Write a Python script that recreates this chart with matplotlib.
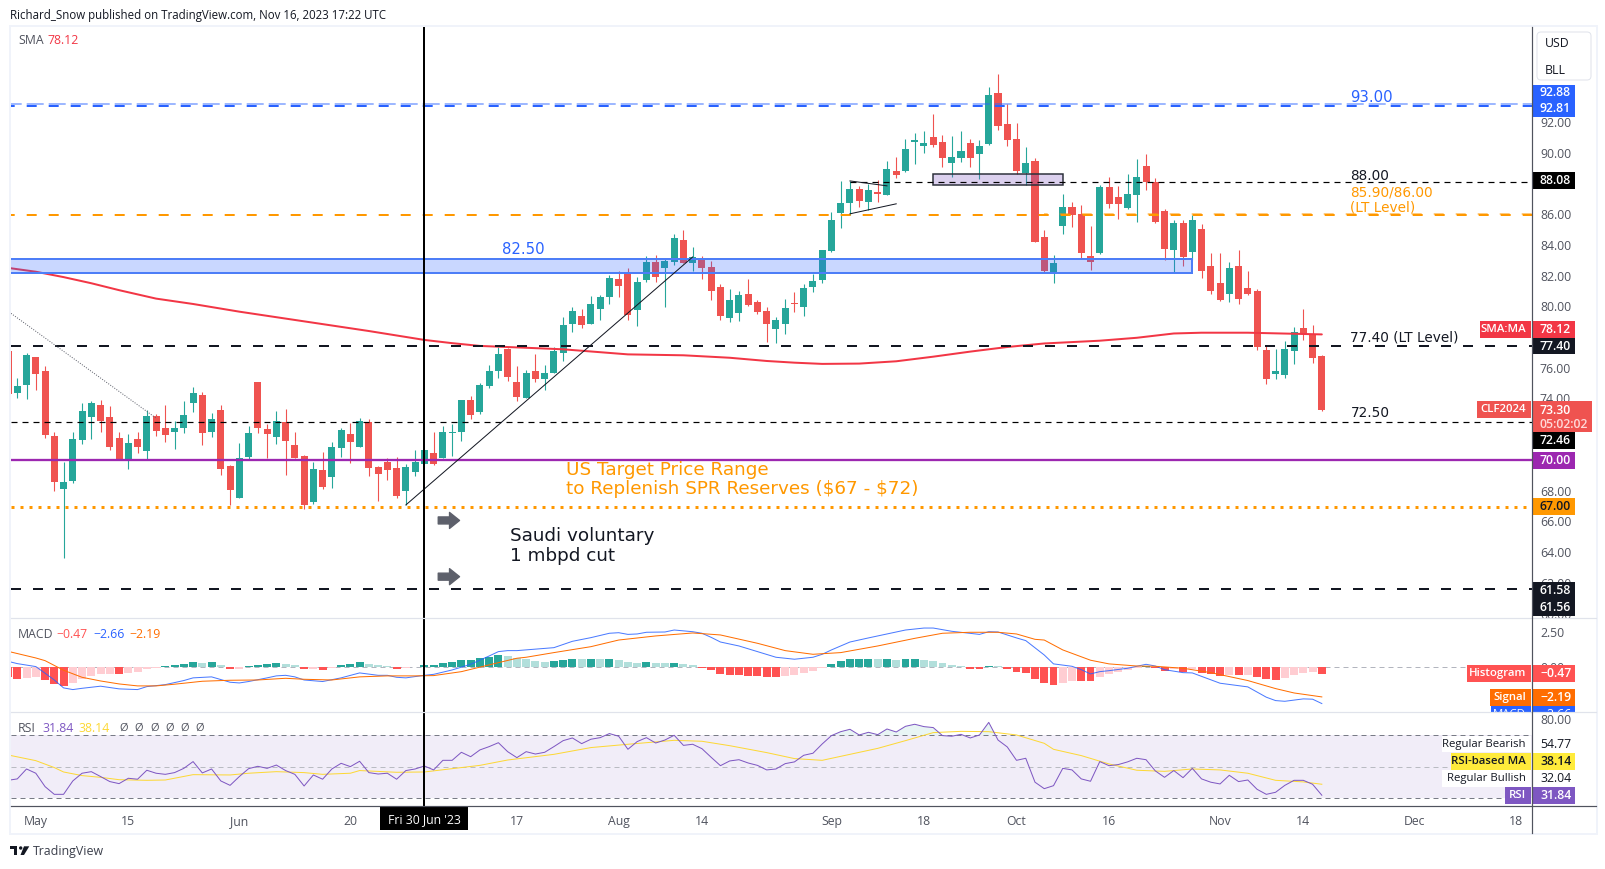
import matplotlib
matplotlib.use('Agg')
import matplotlib.pyplot as plt
from matplotlib.patches import Rectangle, Polygon, Circle, FancyBboxPatch
from matplotlib.transforms import Bbox, TransformedBbox

plt.rcParams['font.family'] = ['Open Sans', 'DejaVu Sans']
plt.rcParams['lines.scale_dashes'] = False

# candles, one per trading day from the end of April to 16 Nov 2023
opens = [77.11, 74.36, 74.88, 76.70, 75.79, 71.56, 68.11, 68.63, 71.30, 72.80,
         73.58, 72.80, 71.43, 70.00, 71.36, 70.58, 72.86, 72.08, 71.82, 72.08,
         73.71, 74.23, 71.82, 73.25, 69.61, 67.52, 70.19, 75.07, 72.01, 71.49,
         72.47, 70.97, 70.26, 67.26, 69.34, 68.89, 70.78, 71.69, 70.84, 72.47,
         69.54, 69.87, 69.48, 67.98, 69.21, 69.74, 70.45, 70.13, 71.75, 71.82,
         73.90, 73.12, 74.81, 75.79, 77.22, 75.07, 74.03, 75.79, 75.27, 75.66,
         76.96, 78.85, 79.37, 78.85, 79.83, 80.61, 81.78, 82.10, 79.76, 81.71,
         82.89, 82.50, 82.89, 84.32, 82.82, 83.15, 82.56, 81.26, 79.24, 79.57,
         80.80, 80.28, 79.70, 78.52, 78.85, 80.22, 79.96, 81.26, 81.72, 83.61,
         86.08, 86.73, 87.64, 86.80, 87.45, 87.25, 88.81, 88.81, 90.70, 90.44,
         91.03, 90.70, 89.33, 89.66, 90.64, 89.92, 90.57, 93.89, 91.87, 90.90,
         88.68, 89.46, 84.52, 82.22, 85.23, 86.47, 86.01, 83.28, 83.48, 87.77,
         87.12, 86.41, 87.25, 89.14, 88.10, 86.21, 83.67, 85.43, 83.53, 85.03,
         82.62, 81.51, 80.80, 82.62, 81.19, 80.99, 77.15, 75.59, 75.52, 77.08,
         78.58, 78.19, 76.76]
closes = [74.29, 74.81, 76.83, 75.59, 71.62, 68.56, 68.56, 71.36, 73.19, 73.71,
          72.53, 70.84, 70.00, 71.10, 70.84, 72.86, 71.88, 71.62, 72.08, 72.93,
          74.36, 71.75, 72.67, 69.41, 68.04, 70.13, 71.75, 72.08, 71.69, 72.53,
          71.23, 70.13, 67.07, 69.41, 68.24, 70.84, 71.95, 71.17, 72.53, 69.48,
          69.08, 69.34, 67.65, 69.54, 69.87, 70.65, 69.74, 71.82, 71.82, 73.90,
          72.93, 74.88, 75.79, 76.90, 75.40, 74.10, 75.66, 75.27, 75.66, 77.09,
          78.78, 79.70, 78.78, 80.15, 80.61, 81.84, 81.32, 79.44, 81.58, 82.89,
          81.91, 82.95, 84.45, 82.82, 83.21, 82.50, 81.00, 79.37, 80.41, 80.74,
          80.09, 79.63, 78.85, 79.11, 79.89, 80.15, 81.19, 81.65, 83.67, 85.62,
          86.73, 87.64, 86.86, 87.58, 87.32, 88.94, 88.55, 90.25, 90.83, 90.64,
          90.51, 89.66, 89.73, 90.12, 89.66, 90.44, 93.76, 91.74, 90.83, 88.81,
          89.33, 84.19, 82.30, 82.82, 86.47, 85.95, 83.48, 82.89, 87.77, 86.67,
          86.67, 87.32, 88.42, 88.10, 85.49, 83.74, 85.43, 83.22, 85.61, 82.29,
          80.99, 80.40, 82.49, 80.47, 80.80, 77.35, 75.26, 75.78, 77.22, 78.32,
          78.19, 76.63, 73.24]
highs = [77.11, 75.31, 76.96, 76.70, 76.12, 71.82, 69.87, 71.82, 73.71, 73.84,
         73.90, 73.51, 71.82, 71.69, 71.82, 73.25, 72.99, 73.58, 72.53, 73.84,
         74.75, 74.42, 73.06, 73.58, 69.67, 71.10, 72.21, 75.07, 72.34, 73.19,
         73.32, 71.82, 70.32, 69.87, 70.52, 71.17, 72.08, 72.40, 72.73, 72.67,
         69.61, 70.13, 70.19, 69.74, 70.65, 70.65, 71.82, 72.21, 72.34, 73.90,
         74.16, 75.01, 76.18, 77.35, 77.29, 76.12, 75.85, 76.90, 76.18, 77.35,
         79.31, 79.96, 79.83, 80.67, 80.74, 82.04, 82.30, 82.50, 81.91, 83.28,
         83.34, 83.08, 84.71, 84.97, 83.86, 83.28, 82.95, 81.45, 81.13, 81.00,
         81.78, 80.41, 79.96, 79.31, 80.48, 80.93, 81.45, 82.10, 83.67, 86.14,
         88.16, 88.16, 87.84, 87.97, 88.23, 89.46, 89.73, 90.90, 91.29, 91.42,
         92.52, 91.16, 91.09, 91.42, 90.90, 90.83, 94.28, 95.13, 93.18, 91.94,
         90.38, 89.66, 84.97, 83.35, 87.32, 86.80, 86.60, 85.23, 87.90, 88.42,
         87.84, 88.62, 89.60, 89.92, 88.36, 86.34, 85.62, 85.62, 85.94, 85.35,
         83.46, 83.46, 82.88, 83.66, 82.29, 81.12, 77.48, 77.22, 77.74, 78.65,
         79.82, 78.78, 76.82]
lows = [74.29, 74.03, 73.97, 74.55, 71.43, 67.98, 63.62, 68.50, 71.04, 71.36,
        71.82, 70.65, 70.00, 69.41, 70.45, 70.00, 71.56, 71.17, 70.71, 71.75,
        73.12, 70.97, 71.49, 69.02, 67.07, 67.52, 70.06, 71.75, 70.13, 71.04,
        69.02, 70.13, 66.81, 67.13, 68.11, 68.17, 70.19, 69.80, 70.84, 68.95,
        67.33, 68.69, 67.52, 67.07, 68.95, 69.74, 69.67, 70.13, 70.26, 71.23,
        72.67, 72.99, 74.68, 75.33, 75.14, 73.84, 74.03, 75.07, 74.55, 75.66,
        76.44, 78.33, 78.59, 78.85, 79.11, 80.15, 80.61, 79.11, 78.72, 81.58,
        81.58, 79.96, 82.69, 82.82, 82.30, 81.78, 80.41, 79.11, 78.98, 79.04,
        80.02, 79.50, 77.68, 77.61, 78.20, 79.63, 79.37, 80.93, 81.52, 83.54,
        85.10, 85.95, 86.47, 86.27, 86.80, 87.25, 88.36, 88.75, 89.27, 89.99,
        90.38, 89.07, 88.42, 89.40, 89.07, 88.29, 90.51, 91.48, 90.44, 88.62,
        87.90, 84.19, 82.17, 81.52, 84.71, 85.17, 83.15, 82.37, 83.41, 86.41,
        85.69, 86.34, 85.49, 87.58, 85.43, 83.02, 82.15, 82.63, 83.01, 81.84,
        80.80, 80.34, 80.27, 80.14, 80.73, 77.15, 74.94, 75.26, 75.33, 76.24,
        77.80, 76.30, 73.18]

sma_x = [0, 3, 6, 9, 12, 16, 20, 25, 28, 31, 35, 39, 42, 45, 48, 51, 56, 60, 67,
         73, 78, 82, 85, 88, 92, 96, 100, 104, 108, 112, 116, 118, 122, 126, 129,
         134, 142]
sma_y = [82.50, 82.25, 81.90, 81.50, 81.05, 80.50, 80.15, 79.65, 79.38, 79.11,
         78.75, 78.39, 78.10, 77.81, 77.60, 77.42, 77.30, 77.20, 76.87, 76.81,
         76.65, 76.44, 76.33, 76.25, 76.27, 76.42, 76.72, 77.05, 77.35, 77.58,
         77.70, 77.76, 77.95, 78.23, 78.28, 78.28, 78.17]

macd_hist = [-.68, -.83, -.75, -.68, -.90, -1.18, -1.32, -1.11, -.83, -.61,
             -.47, -.46, -.48, -.40, -.33, -.12, -.05, .10, .17, .24,
             .38, .31, .38, .17, -.12, -.11, .10, .17, .24, .31,
             .24, .17, -.12, -.11, -.19, -.05, .17, .24, .38, .24,
             .17, .10, -.12, -.05, .03, .17, .18, .31, .38, .52,
             .53, .66, .73, .87, .80, .66, .59, .45, .38, .45,
             .52, .59, .58, .59, .58, .59, .52, .38, .31, .38,
             .31, .30, .31, .24, .17, -.05, -.19, -.47, -.54, -.55,
             -.61, -.62, -.68, -.69, -.61, -.54, -.40, -.26, -.05, .24,
             .45, .59, .60, .61, .60, .61, .52, .58, .59, .52,
             .45, .31, .17, .10, -.12, -.13, .10, .09, -.12, -.33,
             -.40, -.83, -1.13, -1.25, -1.11, -.97, -.98, -.99, -.68, -.47,
             -.33, -.19, -.07, .10, -.05, -.26, -.12, -.33, -.12, -.40,
             -.47, -.61, -.54, -.55, -.54, -.68, -.83, -.90, -.75, -.54,
             -.40, -.33, -.47]
macd_x = [0, 1, 3, 4, 5, 6, 7, 8, 10, 12, 14, 15, 17, 19, 20, 22, 24, 25, 26, 28,
          29, 30, 31, 32, 34, 36, 38, 40, 41, 42, 43, 45, 46, 48, 50, 52, 53, 54,
          55, 59, 61, 63, 65, 66, 67, 68, 69, 71, 72, 74, 75, 76, 77, 79, 81, 83,
          85, 87, 88, 89, 91, 93, 95, 97, 99, 100, 102, 105, 106, 107, 109, 110,
          112, 113, 115, 116, 117, 118, 119, 121, 123, 124, 125, 127, 128, 131,
          134, 136, 137, 138, 140, 141, 142]
macd_y = [.42, .26, .05, -.42, -.90, -1.46, -1.58, -1.49, -1.34, -1.53, -1.58,
          -1.37, -1.23, -.94, -.75, -.68, -1.06, -1.11, -1.01, -.75,
          -.61, -.57, -.68, -.90, -1.01, -.75, -.40, -.57, -.57, -.71, -.75,
          -.57, -.50, -.19, .21, .80, 1.11, 1.18,
          1.18, 1.39, 1.84, 2.10, 2.41, 2.45, 2.33, 2.36, 2.48, 2.50, 2.64, 2.52,
          2.41, 2.12, 1.79, 1.51, 1.11, .71,
          .57, .71, .92, 1.23, 1.79, 2.08, 2.36, 2.64, 2.78, 2.78, 2.55, 2.33,
          2.52, 2.50, 2.08, 1.89,
          .87, .24, .07, -.17, -.47, -.31, -.24, -.07, .21, .09, -.17, -.38, -.40,
          -1.13, -1.39, -2.12, -2.36, -2.41, -2.24, -2.26, -2.57]
signal_x = [0, 3, 4, 6, 8, 10, 12, 14, 16, 18, 21, 24, 27, 30, 32, 35, 38, 41, 44,
            46, 49, 52, 55, 56, 59, 63, 66, 70, 74, 77, 81, 84, 87, 90, 94, 98,
            101, 104, 107, 109, 111, 112, 114, 117, 119, 122, 124, 127, 130, 134,
            137, 139, 142]
signal_y = [1.13, .66, .47, -.21, -.71, -.97, -1.18, -1.32, -1.32, -1.20, -.99,
            -.92, -.90, -.78, -.85, -.90, -.68, -.61, -.61, -.59, -.31, .17, .64,
            .71, 1.04, 1.46, 1.93, 2.22, 2.43, 2.29, 1.70, 1.18, .92, 1.04, 1.51,
            2.05, 2.41, 2.48, 2.48, 2.36, 1.98, 1.93, 1.23, .50, .24, .09, .07,
            -.07, -.38, -.94, -1.51, -1.82, -2.10]

rsi = [41.3, 42.2, 48.5, 45.8, 37.3, 32.4, 32.4, 40.9, 45.8, 46.8,
       43.7, 40.5, 39.2, 42.6, 42.0, 47.7, 45.8, 45.1, 46.2, 48.9,
       53.2, 46.0, 48.5, 40.9, 38.1, 43.7, 48.7, 50.2, 48.9, 51.0,
       47.5, 45.1, 37.7, 44.7, 42.0, 48.5, 52.1, 50.0, 53.4, 46.2,
       45.3, 45.8, 42.0, 47.5, 48.5, 50.4, 47.9, 54.0, 54.0, 59.1,
       56.3, 60.6, 62.7, 65.2, 59.5, 55.7, 59.5, 58.0, 59.1, 62.7,
       66.5, 68.2, 64.6, 67.4, 68.4, 71.0, 69.3, 61.0, 65.9, 68.4,
       65.0, 66.9, 69.9, 63.5, 64.2, 61.4, 55.9, 50.6, 53.6, 54.4,
       52.3, 50.8, 47.9, 48.5, 51.9, 53.0, 57.2, 58.5, 64.4, 69.7,
       72.2, 73.7, 70.1, 71.8, 70.3, 73.9, 72.0, 75.6, 76.9, 75.4,
       74.8, 69.7, 69.3, 70.5, 68.2, 70.1, 78.1, 66.9, 62.5, 54.0,
       55.3, 40.1, 36.0, 37.9, 48.9, 47.9, 42.2, 40.7, 53.2, 50.6,
       51.3, 53.0, 55.3, 54.4, 47.3, 43.2, 47.5, 43.0, 48.9, 42.2,
       40.1, 39.0, 44.5, 40.5, 41.5, 35.6, 32.4, 33.7, 38.1, 41.3,
       41.3, 38.8, 31.84]
rsi_ma_x = [0, 3, 5, 6, 8, 10, 12, 15, 17, 20, 24, 26, 29, 32, 34, 37, 38, 42, 45,
            48, 51, 54, 59, 63, 67, 72, 75, 78, 82, 85, 88, 91, 94, 97, 100, 103,
            106, 109, 112, 113, 116, 119, 122, 125, 128, 131, 134, 137, 140, 142]
rsi_ma_y = [57.4, 53.8, 49.4, 46.6, 44.3, 43.2, 41.7, 41.3, 41.5, 44.9, 44.7, 45.8,
            46.8, 46.2, 45.1, 45.8, 47.5, 46.4, 46.6, 48.7, 50.8, 54.2, 57.8, 62.1,
            64.2, 66.7, 66.1, 63.3, 58.9, 55.1, 54.0, 57.8, 61.6, 66.5, 71.6, 72.4,
            72.2, 70.1, 64.8, 61.0, 57.0, 51.7, 47.7, 47.0, 48.5, 47.9, 45.8, 41.3,
            40.3, 38.8]

price_ticks = [60, 62, 64, 66, 68, 70, 72, 74, 76, 78, 80, 82, 84, 86, 88, 90, 92]
time_ticks = [3, 13, 25, 37, 55, 66, 75, 89, 99, 109, 119, 131, 140, 152, 163]
time_labels = ['May', '15', 'Jun', '20', '17', 'Aug', '14', 'Sep', '18', 'Oct',
               '16', 'Nov', '14', 'Dec', '18']

W, H = 1606, 869
PX = 0.72  # one pixel in points at dpi 100
LEFT, RIGHT = 11, 1532.3
XLIM = (0.32, 164.75)

GREEN = '#26a69a'
RED = '#ef5350'
INK = '#131722'
AXIS_TEXT = '#50535e'
ORANGE = '#ff9800'
BLUE = '#2962ff'
PURPLE = '#9c27b0'
RSI_COL = '#7e57c2'


def pane(top, bottom, ylim):
    a = fig.add_axes([LEFT / W, 1 - bottom / H, (RIGHT - LEFT) / W, (bottom - top) / H])
    a.set_xlim(*XLIM)
    a.set_ylim(*ylim)
    for s in a.spines.values():
        s.set_visible(False)
    a.yaxis.tick_right()
    a.tick_params(axis='y', length=0, pad=5.5, labelsize=8.8, labelcolor=AXIS_TEXT)
    a.set_xticks([])
    a.axvline(45, color='black', lw=2 * PX, zorder=6)
    return a


fig = plt.figure(figsize=(W / 100, H / 100), dpi=100, facecolor='white')

# main price pane
ax = pane(27, 618.3, (59.69, 98.18))
ax.set_yticks(price_ticks)
ax.set_yticklabels(['%.2f' % p for p in price_ticks])

x = list(range(len(opens)))
colors = [GREEN if c >= o else RED for o, c in zip(opens, closes)]
ax.vlines(x, lows, highs, colors=colors, lw=1.1 * PX, zorder=2)
ax.bar(x, [abs(c - o) for o, c in zip(opens, closes)],
       bottom=[min(o, c) for o, c in zip(opens, closes)],
       width=0.76, color=colors, zorder=2.1)

ax.plot(sma_x, sma_y, color='#f23645', lw=2 * PX, zorder=3, solid_capstyle='round')

# support/resistance drawings
ax.add_patch(Rectangle((-5, 82.17), 133, 0.91, facecolor=BLUE, alpha=0.25, edgecolor='none', zorder=3))
ax.add_patch(Rectangle((-5, 82.17), 133, 0.91, facecolor='none', edgecolor='#4d7ef7', lw=2 * PX, zorder=3))
ax.add_patch(Rectangle((100, 87.88), 14, 0.72, facecolor='#7e57c2', alpha=0.28, edgecolor='none', zorder=3))
ax.add_patch(Rectangle((100, 87.88), 14, 0.72, facecolor='none', edgecolor='#2a2e39', lw=1.5 * PX, zorder=3))

thick_dash = (0, (10 * PX, 12 * PX))
thin_dash = (0, (6 * PX, 5 * PX))
shift_dash = (6.3 * PX, (10 * PX, 12 * PX))
ax.axhline(93.15, color=BLUE, alpha=0.45, lw=2 * PX, ls=(6.3 * PX, (17 * PX, 5 * PX)), zorder=4)
ax.axhline(93.05, color=BLUE, lw=2 * PX, ls=shift_dash, zorder=4)
ax.hlines(88.12, 91, XLIM[1], color='black', lw=1.2 * PX, ls=thin_dash, zorder=4)
ax.axhline(85.92, color=ORANGE, lw=2 * PX, ls=shift_dash, zorder=4)
ax.hlines(85.98, 112, XLIM[1], color=ORANGE, alpha=0.5, lw=2 * PX, ls=shift_dash, zorder=4)
ax.axhline(77.44, color=INK, lw=2 * PX, ls=thick_dash, zorder=4)
ax.axhline(72.45, color='black', lw=1.2 * PX, ls=thin_dash, zorder=4)
ax.axhline(70.0, color=PURPLE, lw=2.3 * PX, zorder=4)
ax.axhline(66.96, color=ORANGE, lw=3 * PX, ls=(0, (3 * PX, 6 * PX)), zorder=4)
ax.axhline(61.6, color=INK, lw=2 * PX, ls=thick_dash, zorder=4)

ax.plot([43, 74], [67.07, 83.21], color=INK, lw=1 * PX, zorder=4)
ax.plot([91, 95], [88.16, 87.84], color=INK, lw=1 * PX, zorder=4)
ax.plot([91, 96], [86.02, 86.67], color=INK, lw=1 * PX, zorder=4)
ax.plot([0.32, 16.07], [79.54, 72.69], color='#5d606b', lw=1 * PX, ls=(0, (1 * PX, 1.5 * PX)), zorder=4)

for arrow_y in [66.06, 62.4]:
    ax.annotate('', xy=(48.8, arrow_y), xytext=(46.5, arrow_y),
                arrowprops=dict(width=7 * PX, headwidth=16 * PX, headlength=10 * PX,
                                color='#5d606b', shrink=0), zorder=5)

draw_font = {'family': 'DejaVu Sans', 'va': 'center', 'ha': 'left', 'zorder': 5, 'parse_math': False}
ax.text(53.4, 83.67, '82.50', color=BLUE, fontsize=10.7, **draw_font)
ax.text(145.1, 93.6, '93.00', color=BLUE, fontsize=10.7, **draw_font)
ax.text(145.1, 88.48, '88.00', color=INK, fontsize=9.8, **draw_font)
ax.text(145.1, 87.4, '85.90/86.00', color=ORANGE, fontsize=9.8, **draw_font)
ax.text(145.1, 86.46, '(LT Level)', color=ORANGE, fontsize=9.8, **draw_font)
ax.text(145.1, 78.0, '77.40 (LT Level)', color=INK, fontsize=9.8, **draw_font)
ax.text(145.1, 73.05, '72.50', color=INK, fontsize=9.8, **draw_font)
ax.text(60.3, 69.34, 'US Target Price Range', color=ORANGE, fontsize=13.2, **draw_font)
ax.text(60.3, 68.1, 'to Replenish SPR Reserves ($67 - $72)', color=ORANGE, fontsize=13.2, **draw_font)
ax.text(54.3, 65.04, 'Saudi voluntary', color=INK, fontsize=13.2, **draw_font)
ax.text(54.3, 63.74, '1 mbpd cut', color=INK, fontsize=13.2, **draw_font)

# MACD pane
ax2 = pane(618.3, 712.3, (-3.19, 3.47))
ax2.set_yticks([-2.5, 0, 2.5])
ax2.set_yticklabels(['\u22122.50', '0.00', '2.50'])
hist_colors = []
for i, h in enumerate(macd_hist):
    rising = i > 0 and h > macd_hist[i - 1]
    if h >= 0:
        hist_colors.append(GREEN if rising else '#b2dfdb')
    else:
        hist_colors.append('#ffcdd2' if rising else '#ff5252')
ax2.axhline(0, color='#b2b5be', lw=1 * PX, ls=(0, (5 * PX, 4 * PX)), zorder=1)
ax2.bar(x, macd_hist, width=0.86, color=hist_colors, zorder=2)
ax2.plot(macd_x, macd_y, color=BLUE, lw=1 * PX, zorder=3, alpha=0.85)
ax2.plot(signal_x, signal_y, color='#ff6d00', lw=1 * PX, zorder=3)

# RSI pane
ax3 = pane(712.3, 806.3, (24.8, 84.5))
ax3.set_yticks([80])
ax3.set_yticklabels(['80.00'])
ax3.axhspan(30, 70, facecolor=RSI_COL, alpha=0.1, lw=0, zorder=1)
for level, col in [(70, '#787b86'), (50, '#b9bbc2'), (30, '#787b86')]:
    ax3.axhline(level, color=col, lw=1 * PX, ls=(0, (5 * PX, 4 * PX)), zorder=2)
ax3.fill_between(x, 70, rsi, where=[r > 70 for r in rsi], interpolate=True,
                 color=GREEN, alpha=0.1, lw=0, zorder=2)
ax3.plot(rsi_ma_x, rsi_ma_y, color='#fdd835', lw=1 * PX, zorder=3)
ax3.plot(x, rsi, color=RSI_COL, lw=1 * PX, zorder=3)
ax3.set_xticks(time_ticks)
ax3.set_xticklabels(time_labels)
ax3.tick_params(axis='x', length=0, pad=6, labelsize=8.8, labelcolor=AXIS_TEXT)

# overlay in pixel units for the chart furniture
ov = fig.add_axes([0, 0, 1, 1], zorder=10)
ov.set_xlim(0, W)
ov.set_ylim(H, 0)
ov.axis('off')


def box(x0, x1, y0, y1, color, **kw):
    ov.add_patch(Rectangle((x0, y0), x1 - x0, y1 - y0, facecolor=color, edgecolor='none', **kw))


def label(px, py, s, color=INK, size=8.8, ha='left', **kw):
    return ov.text(px, py, s, color=color, fontsize=size, ha=ha, va='center', **kw)


def price_tag(y0, y1, color, value, tcolor='white', name=None, name_x=None):
    box(1533, 1575, y0, y1, color)
    label(1540, (y0 + y1) / 2, value, color=tcolor, weight='semibold')
    if name:
        box(name_x, 1531, y0, y1, color)
        label(1526, (y0 + y1) / 2, name, color=tcolor, ha='right', size=8.2, weight='semibold')


# frame
border = '#f0f3fa'
box(9, 11, 25, 835, border)
box(1596, 1598, 25, 835, border)
box(9, 1598, 25, 27, border)
box(9, 1598, 833, 835, border)
ov.plot([11, 1596], [618.3, 618.3], color='#e0e3eb', lw=1.2 * PX)
ov.plot([11, 1596], [712.3, 712.3], color='#e0e3eb', lw=1.2 * PX)
ov.plot([11, 1596], [806.3, 806.3], color='#50535e', lw=1.2 * PX)
ov.plot([1532.3, 1532.3], [27, 833], color='#50535e', lw=1.2 * PX)

label(10, 15, 'Richard_Snow published on TradingView.com, Nov 16, 2023 17:22 UTC', size=8.3)
label(18, 41, 'SMA', color=AXIS_TEXT)
label(47, 41, '78.12', color='#f23645')
label(18, 634, 'MACD', color=AXIS_TEXT)
label(56, 634, '\u22120.47', color='#ff5252')
label(93, 634, '\u22122.66', color=BLUE)
label(129, 634, '\u22122.19', color='#ff6d00')
label(18, 728, 'RSI', color=AXIS_TEXT)
label(42, 728, '31.84', color=RSI_COL)
label(78, 728, '38.14', color='#fdd835')
for empty_x in [119, 134, 150, 165, 180, 195]:
    label(empty_x, 728, '\u00d8', color=AXIS_TEXT, size=8)

# currency / unit badge
ov.add_patch(FancyBboxPatch((1537, 32), 54, 48, boxstyle='round,pad=0,rounding_size=4',
                            facecolor='white', edgecolor='#e0e3eb', lw=1 * PX))
label(1545, 43.5, 'USD')
label(1545, 70, 'BLL')

# price scale tags
box(1533, 1575, 85, 117, BLUE)
label(1540, 93, '92.88', color='white', weight='semibold')
label(1540, 108.5, '92.81', color='white', weight='semibold')
price_tag(172, 189, 'black', '88.08')
price_tag(321, 338, '#f23645', '78.12', name='SMA:MA', name_x=1480)
price_tag(338, 354, INK, '77.40')
box(1533, 1592, 401, 432, RED)
box(1477, 1531, 401, 418.3, RED)
label(1526, 409.7, 'CLF2024', color='white', ha='right', size=8.2, weight='semibold')
label(1540, 410, '73.30', color='white', weight='semibold')
label(1540, 424, '05:02:02', color='#ffd9d8', weight='semibold')
price_tag(432.3, 449, 'black', '72.46')
price_tag(452, 468.7, PURPLE, '70.00')
price_tag(498, 514.7, ORANGE, '67.00', tcolor=INK)
box(1533, 1575, 582, 616, INK)
label(1540, 590.5, '61.58', color='white', weight='semibold')
label(1540, 607.5, '61.56', color='white', weight='semibold')

price_tag(665, 682, '#ff5252', '\u22120.47', name='Histogram', name_x=1467)
price_tag(689, 706, '#ff6d00', '\u22122.19', name='Signal', name_x=1490)
box(1491, 1531, 706, 712, BLUE)
box(1533, 1575, 706, 712, BLUE)
clip = TransformedBbox(Bbox([[1480, 706], [1580, 712]]), ov.transData)
for t in [label(1526, 714.5, 'MACD', color='white', ha='right', size=8.2),
          label(1540, 714.5, '\u22122.66', color='white')]:
    t.set_clip_box(clip)
    t.set_clip_on(True)

box(1442, 1531, 735.7, 752.3, 'white')
label(1526, 744, 'Regular Bearish', ha='right', size=8.2)
label(1540, 744, '54.77')
price_tag(753.3, 770, '#ffeb3b', '38.14', tcolor=INK, name='RSI-based MA', name_x=1451)
box(1442, 1531, 770, 786.7, 'white')
label(1526, 778, 'Regular Bullish', ha='right', size=8.2)
label(1540, 778, '32.04')
price_tag(787, 803.7, RSI_COL, '31.84', name='RSI', name_x=1505)

# crosshair date
box(380, 468, 806, 830, 'black')
label(424, 820, "Fri 30 Jun '23", color='white', ha='center')

# logo
box(10, 17.3, 846.3, 849, '#131722')
box(14, 17.3, 846.3, 855, '#131722')
ov.add_patch(Circle((20.7, 848), 1.7, facecolor='#131722', edgecolor='none'))
ov.add_patch(Polygon([(24, 846.3), (29.3, 846.3), (24, 855), (20.5, 855)], facecolor='#131722', edgecolor='none'))
label(33, 851, 'TradingView', color='#3b3f4b', size=8.9)

fig.savefig('out.png', dpi=100, facecolor='white')
